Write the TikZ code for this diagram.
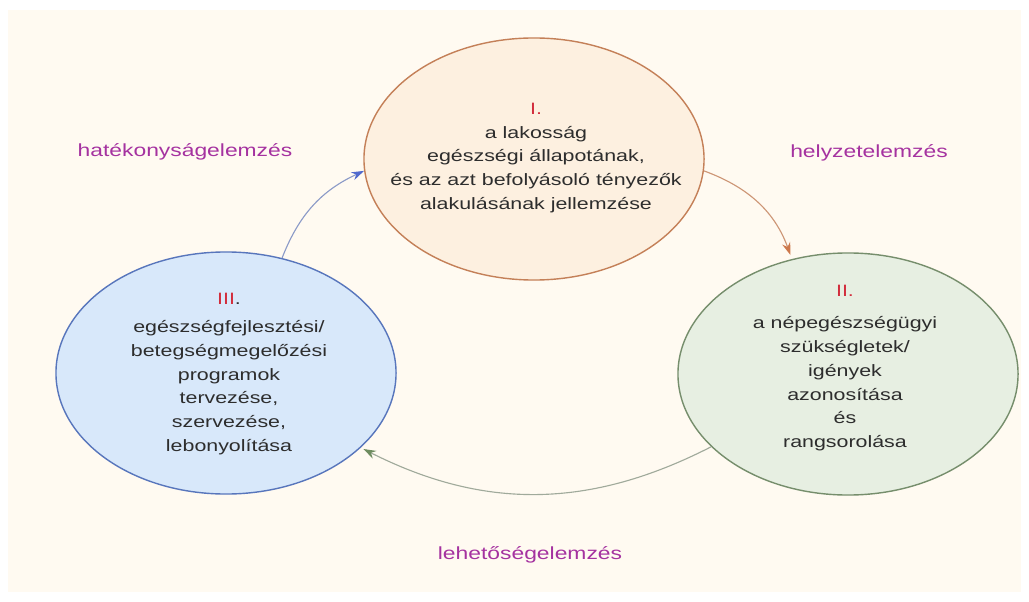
\documentclass[tikz,border=0pt]{standalone}
\usepackage{fontspec}
\usetikzlibrary{shapes.geometric, arrows.meta}
\newfontfamily\hufont{Liberation Sans}[FakeStretch=1.3]
\definecolor{bgcream}{RGB}{255,250,241}
\definecolor{fillI}{RGB}{253,240,224}
\definecolor{lineI}{RGB}{196,128,88}
\definecolor{fillII}{RGB}{231,239,226}
\definecolor{lineII}{RGB}{118,142,108}
\definecolor{fillIII}{RGB}{216,232,250}
\definecolor{lineIII}{RGB}{88,118,188}
\definecolor{arrowI}{RGB}{205,150,118}
\definecolor{tipI}{RGB}{205,120,75}
\definecolor{arrowII}{RGB}{160,170,155}
\definecolor{tipII}{RGB}{110,140,95}
\definecolor{arrowIII}{RGB}{140,155,200}
\definecolor{tipIII}{RGB}{80,105,205}
\definecolor{labelpurple}{RGB}{165,50,160}
\definecolor{numred}{RGB}{210,45,60}
\definecolor{textgray}{RGB}{45,45,45}

\begin{document}
\begin{tikzpicture}[x=0.025cm, y=-0.025cm,
    every node/.style={font=\hufont\fontsize{11.7}{17}\selectfont},
    phase/.style={ellipse, draw, line width=1pt, minimum width=8.5cm, minimum height=6.05cm, inner sep=0pt},
    phasetext/.style={align=center, text=textgray},
    stage/.style={text=labelpurple, font=\hufont\fontsize{12.5}{15}\selectfont},
    flow/.style={line width=0.8pt}]
    \useasboundingbox (0,0) rectangle (1029,602);

    % 背景
    \fill[white] (0,0) rectangle (1029,602);
    \fill[bgcream] (8,10) rectangle (1021,592);

    % 三个阶段
    \node[phase, draw=lineI, fill=fillI] (e1) at (534,159) {};
    \node[phase, draw=lineII, fill=fillII] (e2) at (848,374) {};
    \node[phase, draw=lineIII, fill=fillIII] (e3) at (226,373) {};

    % 阶段文字
    \node[phasetext] (t1) at (536,158) {{\color{numred}I.}\\a lakosság\\egészségi állapotának,\\és az azt befolyásoló tényezők\\alakulásának jellemzése};
    \node[phasetext] (t2) at (845,368) {{\color{numred}II.}\\[6pt]a népegészségügyi\\szükségletek/\\igények\\azonosítása\\és\\rangsorolása};
    \node[phasetext] (t3) at (229,374) {{\color{numred}III}.\\[3pt]egészségfejlesztési/\\betegségmegelőzési\\programok\\tervezése,\\szervezése,\\lebonyolítása};

    % 箭头
    \draw[flow, draw=arrowIII, -{Stealth[length=9pt, width=6pt, color=tipIII]}] (e3.64) to[bend left=22] (e1.184);
    \draw[flow, draw=arrowI, shorten >=3pt, -{Stealth[length=9pt, width=6pt, color=tipI]}] (e1.356) to[bend left=25] (e2.116);
    \draw[flow, draw=arrowII, shorten >=2pt, -{Stealth[length=9pt, width=6pt, color=tipII]}] (e2.208) to[bend left=27] (e3.331);

    % 分析类型
    \node[stage] (l1) at (185,152) {hatékonyságelemzés};
    \node[stage] (l2) at (869,153) {helyzetelemzés};
    \node[stage] (l3) at (530,555) {lehetőségelemzés};

\end{tikzpicture}
\end{document}
